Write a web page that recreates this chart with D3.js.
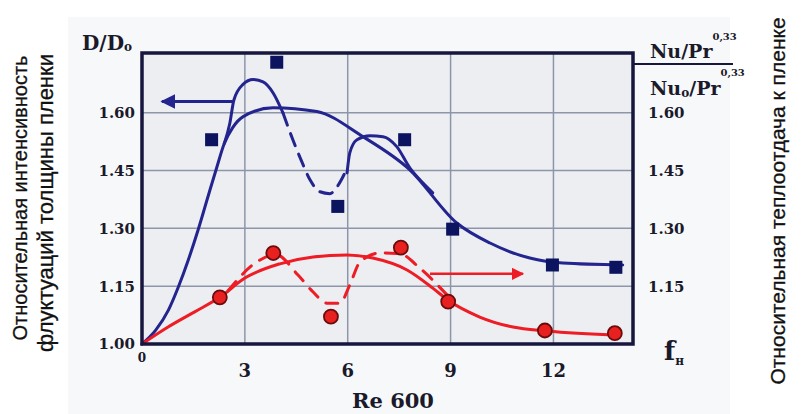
<!DOCTYPE html>
<html>
<head>
<meta charset="utf-8">
<script src="https://cdn.jsdelivr.net/npm/d3@7"></script>
<style>
  body { margin: 0; background: #fff; }
  svg { display: block; }
  .tick-lbl { font-family: "DejaVu Serif", serif; font-weight: bold; fill: #1a1a2a; }
  .side-lbl { font-family: "Liberation Sans", Arial, sans-serif; fill: #111; stroke: #111; stroke-width: 0.3; }
</style>
</head>
<body>
<svg id="chart" width="806" height="414"></svg>
<script>
// y ticks (both axes share the same scale)
const yTicks = [1.00, 1.15, 1.30, 1.45, 1.60];
const xTicks = [3, 6, 9, 12];

// D/D0 measured points (squares, left axis)
const blueX = [2.03, 3.93, 5.71, 7.66, 9.06, 11.97, 13.82];
const blueY = [1.530, 1.731, 1.357, 1.530, 1.298, 1.205, 1.199];

// Nu ratio measured points (circles, right axis)
const redX = [2.27, 3.83, 5.51, 7.55, 8.93, 11.75, 13.79];
const redY = [1.121, 1.236, 1.071, 1.250, 1.110, 1.035, 1.028];

// smooth blue curve
const blueCurve = [[0, 1.000], [0.40, 1.036], [0.77, 1.088], [1.06, 1.148], [1.35, 1.218], [1.64, 1.297],
  [1.93, 1.384], [2.18, 1.458], [2.40, 1.520], [2.65, 1.562], [2.95, 1.590],
  [3.82, 1.613], [5.10, 1.603], [6.44, 1.538], [7.81, 1.452], [9.18, 1.314], [10.15, 1.262],
  [11.31, 1.223], [12.27, 1.210], [14.02, 1.205]];
// blue curve with peaks: solid / dashed / solid
const bluePeakA = [[2.40, 1.520], [2.56, 1.572], [2.68, 1.633], [2.94, 1.673], [3.24, 1.686],
  [3.53, 1.680], [3.82, 1.652], [4.11, 1.600]];
const bluePeakB = [[4.11, 1.600], [4.40, 1.530], [4.66, 1.473], [4.90, 1.426], [5.19, 1.395],
  [5.48, 1.390], [5.69, 1.408], [5.95, 1.450]];
const bluePeakC = [[5.98, 1.444], [6.06, 1.496], [6.27, 1.530], [6.65, 1.540], [7.03, 1.538],
  [7.43, 1.512], [7.81, 1.457], [8.19, 1.418], [8.48, 1.392]];

// smooth red curve
const redCurve = [[0, 1.000], [0.76, 1.044], [1.55, 1.084], [2.27, 1.121], [3.0, 1.171], [4.02, 1.208],
  [4.99, 1.226], [5.98, 1.231], [6.73, 1.223], [7.73, 1.192], [8.48, 1.145], [8.92, 1.114],
  [9.85, 1.070], [10.82, 1.044], [11.81, 1.034], [13.94, 1.023]];
// red dashed curve with peaks
const redPeak = [[2.51, 1.138], [3.35, 1.213], [3.90, 1.232], [4.55, 1.179], [4.99, 1.135],
  [5.39, 1.106], [5.77, 1.106], [6.06, 1.153], [6.36, 1.213], [6.94, 1.236], [7.52, 1.234],
  [8.10, 1.197], [8.92, 1.125]];

// direction arrows
const blueArrow = [[2.65, 1.629], [0.58, 1.629]];
const redArrow = [[8.40, 1.182], [11.11, 1.182]];

const svg = d3.select("#chart");
const blue = "#24248f", red = "#ee1c24";

const x = d3.scaleLinear().domain([0, 14.32]).range([142, 633]);
const y = d3.scaleLinear().domain([1.0, 1.755]).range([344, 53]);

// faint page background and plot fill
svg.append("rect").attr("x", 68).attr("y", 17).attr("width", 662).attr("height", 397).attr("fill", "#f7f8fa");
svg.append("rect").attr("x", x(0)).attr("y", y(1.755))
  .attr("width", x(14.32) - x(0)).attr("height", y(1) - y(1.755)).attr("fill", "#eceef2");

const defs = svg.append("defs");
function marker(id, color) {
  defs.append("marker").attr("id", id).attr("viewBox", "0 0 10 10")
    .attr("refX", 9).attr("refY", 5).attr("markerWidth", 5).attr("markerHeight", 5)
    .attr("markerUnits", "strokeWidth").attr("orient", "auto")
    .append("path").attr("d", "M0,0 L10,5 L0,10 z").attr("fill", color);
}
marker("ab", blue);
marker("ar", red);

// grid
const grid = svg.append("g").attr("stroke", "#8d96a8").attr("stroke-width", 1.5);
grid.selectAll(".gx").data(xTicks).join("line")
  .attr("x1", d => x(d)).attr("x2", d => x(d)).attr("y1", y(1.755)).attr("y2", y(1));
grid.selectAll(".gy").data(yTicks.slice(1)).join("line")
  .attr("x1", x(0)).attr("x2", x(14.32)).attr("y1", d => y(d)).attr("y2", d => y(d));

const line = d3.line().x(d => x(d[0])).y(d => y(d[1])).curve(d3.curveMonotoneX);

function path(data, color, dash) {
  svg.append("path").datum(data).attr("d", line)
    .attr("fill", "none").attr("stroke", color).attr("stroke-width", 3)
    .attr("stroke-linecap", "round")
    .attr("stroke-dasharray", dash || null);
}
path(blueCurve, blue);
path(bluePeakA, blue);
path(bluePeakB, blue, "13,9");
path(bluePeakC, blue);
path(redCurve, red);
path(redPeak, red, "12,10");

// arrows
svg.append("path").datum(blueArrow).attr("d", d3.line().x(d => x(d[0])).y(d => y(d[1])))
  .attr("stroke", blue).attr("stroke-width", 3).attr("marker-end", "url(#ab)");
svg.append("path").datum(redArrow).attr("d", d3.line().x(d => x(d[0])).y(d => y(d[1])))
  .attr("stroke", red).attr("stroke-width", 2.5).attr("marker-end", "url(#ar)");

// markers
svg.selectAll(".sq").data(blueX).join("rect")
  .attr("x", (d, i) => x(d) - 6.5).attr("y", (d, i) => y(blueY[i]) - 6.5)
  .attr("width", 13).attr("height", 13).attr("fill", "#0c1460");
svg.selectAll(".ci").data(redX).join("circle")
  .attr("cx", d => x(d)).attr("cy", (d, i) => y(redY[i])).attr("r", 7)
  .attr("fill", "#e8201f").attr("stroke", "#6b0c0c").attr("stroke-width", 1.8);

// frame
svg.append("rect").attr("x", x(0)).attr("y", y(1.755))
  .attr("width", x(14.32) - x(0)).attr("height", y(1) - y(1.755))
  .attr("fill", "none").attr("stroke", "#16163e").attr("stroke-width", 3.5);

// left tick labels
svg.selectAll(".yl").data(yTicks).join("text").attr("class", "tick-lbl")
  .attr("x", 135).attr("y", d => y(d)).attr("dy", "0.36em").attr("text-anchor", "end")
  .attr("font-size", 15).text(d => d.toFixed(2));
// right tick labels
svg.selectAll(".yr").data(yTicks.slice(1)).join("text").attr("class", "tick-lbl")
  .attr("x", 648).attr("y", d => y(d)).attr("dy", "0.36em")
  .attr("font-size", 15).text(d => d.toFixed(2));
// x tick labels
svg.selectAll(".xl").data(xTicks).join("text").attr("class", "tick-lbl")
  .attr("x", d => x(d)).attr("y", 377).attr("text-anchor", "middle")
  .attr("font-size", 18).text(d => d);
svg.append("text").attr("class", "tick-lbl").attr("x", x(0)).attr("y", 362)
  .attr("text-anchor", "middle").attr("font-size", 12).text("0");

// axis titles
const dd = svg.append("text").attr("class", "tick-lbl").attr("x", 82).attr("y", 50).attr("font-size", 20);
dd.append("tspan").text("D/D");
dd.append("tspan").attr("font-size", 12).attr("dy", 1).text("o");

const num = svg.append("text").attr("class", "tick-lbl").attr("x", 650).attr("y", 58).attr("font-size", 19);
num.append("tspan").text("Nu/Pr");
num.append("tspan").attr("font-size", 10).attr("dy", -18).text("0,33");
svg.append("line").attr("x1", x(14.32)).attr("x2", 733).attr("y1", 64).attr("y2", 64)
  .attr("stroke", "#16163e").attr("stroke-width", 2);
const den = svg.append("text").attr("class", "tick-lbl").attr("x", 650).attr("y", 95).attr("font-size", 19);
den.append("tspan").text("Nu");
den.append("tspan").attr("font-size", 12).attr("dy", 2).text("o");
den.append("tspan").attr("dy", -2).text("/Pr");
den.append("tspan").attr("font-size", 10).attr("dy", -19).text("0,33");

const fh = svg.append("text").attr("class", "tick-lbl").attr("x", 664).attr("y", 360).attr("font-size", 26);
fh.append("tspan").text("f");
fh.append("tspan").attr("font-size", 12).attr("dy", 5).text("н");

svg.append("text").attr("class", "tick-lbl").attr("x", 393).attr("y", 408)
  .attr("text-anchor", "middle").attr("font-size", 21).text("Re 600");

// rotated side titles
function side(txt, cx, cy, fs) {
  svg.append("text").attr("class", "side-lbl")
    .attr("transform", `translate(${cx},${cy}) rotate(-90)`)
    .attr("text-anchor", "middle").attr("font-size", fs).text(txt);
}
side("Относительная  интенсивность", 27, 198, 20);
side("флуктуаций толщины пленки", 53, 203, 22);
side("Относительная теплоотдача к пленке", 785, 201, 21);
</script>
</body>
</html>
